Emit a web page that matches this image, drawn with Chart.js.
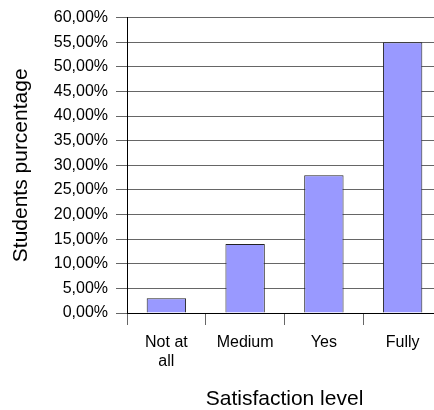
<!DOCTYPE html>
<html>
<head>
<meta charset="utf-8">
<script src="https://cdn.jsdelivr.net/npm/chart.js@4/dist/chart.umd.min.js"></script>
<style>
  html, body { margin: 0; padding: 0; background: #fff; overflow: hidden; }
  #wrap { width: 450px; height: 410px; }
</style>
</head>
<body>
<div id="wrap"><canvas id="satisfactionChart" width="450" height="410"></canvas></div>
<script>
// donnees du graphique
const categories = [['Not at', 'all'], 'Medium', 'Yes', 'Fully'];
const percentages = [3, 14, 28, 55];
const yTicks = [0, 5, 10, 15, 20, 25, 30, 35, 40, 45, 50, 55, 60];

const canvas = document.querySelector('#satisfactionChart');

if (canvas && typeof Chart !== 'undefined') {
    Chart.defaults.font.family = '"Liberation Sans", Arial, sans-serif';
    Chart.defaults.color = '#000';

    const chart = new Chart(canvas, {
        type: 'bar',
        data: {
            labels: categories,
            datasets: [
                {
                    label: 'Students percentage',
                    data: percentages,
                    backgroundColor: '#9999ff',
                    borderColor: '#222',
                    borderWidth: 1,
                    barPercentage: 0.5,
                    categoryPercentage: 1,
                },
            ],
        },
        options: {
            responsive: false,
            animation: false,
            devicePixelRatio: 1,
            layout: { padding: { top: 17, right: 8, left: 0, bottom: 0 } },
            plugins: {
                legend: { display: false },
                tooltip: { enabled: false },
            },
            scales: {
                x: {
                    grid: { drawOnChartArea: false, tickLength: 12, color: '#666', offset: true },
                    border: { color: '#000' },
                    ticks: { font: { size: 16 }, padding: 8, maxRotation: 0, autoSkip: false },
                    title: { display: true, text: 'Satisfaction level', font: { size: 21, lineHeight: 1 }, padding: 0 },
                    afterFit: (scale) => { scale.height = 97; },
                },
                y: {
                    min: 0,
                    max: 60,
                    afterBuildTicks: (scale) => { scale.ticks = yTicks.map((v) => ({ value: v })); },
                    grid: { tickLength: 11, color: '#666' },
                    border: { color: '#000' },
                    ticks: {
                        font: { size: 16 },
                        padding: 8,
                        callback: (v) => v.toFixed(2).replace('.', ',') + '%',
                    },
                    title: { display: true, text: 'Students purcentage', font: { size: 21, lineHeight: 1 }, padding: { top: 11, bottom: 0 } },
                    afterFit: (scale) => { scale.width = 127; },
                },
            },
        },
    });
}
</script>
</body>
</html>
